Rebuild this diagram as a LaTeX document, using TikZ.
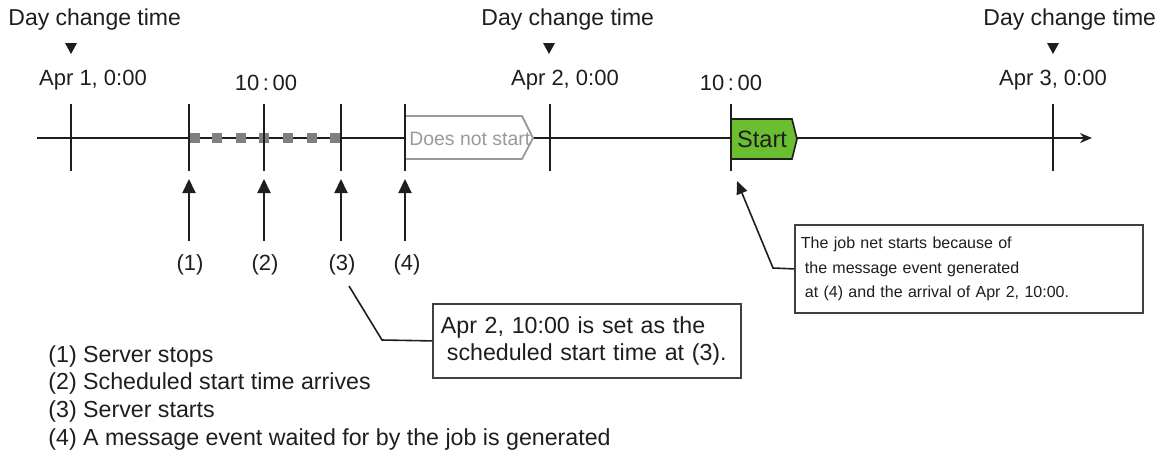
\documentclass[tikz,border=0pt]{standalone}
\usepackage{fontspec}
\setmainfont{Liberation Sans}
\usetikzlibrary{arrows.meta}
\definecolor{ink}{HTML}{1E1E1E}
\definecolor{dots}{HTML}{7F7F7F}
\definecolor{ghost}{HTML}{9A9A9A}
\definecolor{jobgreen}{HTML}{6BBE2F}
\tikzset{
  lbl/.style={inner sep=0pt, text=ink, font=\fontsize{11.5pt}{13pt}\selectfont},
  ticklbl/.style={inner sep=0pt, text=ink, font=\fontsize{11pt}{13pt}\selectfont},
  axis/.style={draw=ink, line width=0.8pt},
  tickline/.style={draw=ink, line width=0.8pt},
  uparrow/.style={draw=ink, line width=1pt, -{Triangle[width=6.5pt,length=7pt]}},
  daymark/.style={fill=ink, draw=none},
  sq/.style={fill=dots, draw=none, minimum size=5.2pt, inner sep=0pt},
  callout/.style={draw=ink!85, line width=0.9pt, fill=white, inner sep=3pt,
    align=left, anchor=north west, text=ink},
  leader/.style={draw=ink, line width=0.8pt},
}
\begin{document}
\begin{tikzpicture}[x=0.5pt, y=-0.5pt]
\useasboundingbox (0,0) rectangle (1163,457);

% main time axis
\coordinate (t0) at (37,138);
\coordinate (t1) at (1092,138);
\draw[axis, -{Stealth[width=5pt,length=6pt]}] (t0) -- (t1);

% gap while the server is down
\foreach \x in {195,217,241,264,288,312,335}
  \node[sq] at (\x,138) {};

% job net that does not start
\draw[draw=ghost, line width=0.9pt, fill=white]
  (405,116) -- (522,116) -- (533,138) -- (522,159) -- (405,159);
\node[inner sep=0pt, text=ghost, font=\fontsize{9.7pt}{11pt}\selectfont, anchor=west]
  (nostart) at (409,139) {Does not start};

% job net that starts
\draw[draw=ink, line width=0.8pt, fill=jobgreen]
  (731,119) -- (792,119) -- (797,139) -- (792,159) -- (731,159) -- cycle;
\node[inner sep=0pt, text=ink, font=\fontsize{11.8pt}{13pt}\selectfont]
  (start) at (762,139) {Start};

% ticks
\foreach \x in {71,189,264,341,405,550,731,1053}
  \draw[tickline] (\x,104) -- (\x,171);

% day change markers
\node[lbl, anchor=west] (d1) at (8,20) {Day change time};
\node[lbl, anchor=west] (d2) at (481,20) {Day change time};
\node[lbl, anchor=west] (d3) at (983,20) {Day change time};
\foreach \x in {71,549,1053}
  \fill[daymark] (\x-6,43) -- (\x+6,43) -- (\x,54) -- cycle;

% tick labels
\node[ticklbl] (a1) at (93,80) {Apr 1, 0:00};
\node[ticklbl] (h1) at (266,83) {10\,:\,00};
\node[ticklbl] (a2) at (565,80) {Apr 2, 0:00};
\node[ticklbl] (h2) at (731,83) {10\,:\,00};
\node[ticklbl] (a3) at (1053,80) {Apr 3, 0:00};

% event arrows and numbers
\node[ticklbl] (l1) at (190,265) {(1)};
\node[ticklbl] (l2) at (265,265) {(2)};
\node[ticklbl] (l3) at (342,265) {(3)};
\node[ticklbl] (l4) at (407,265) {(4)};
\foreach \n/\x in {1/189,2/264,3/341,4/405}
  \draw[uparrow] (\x,241) -- (\x,179);

% callout for (3)
\node[callout, inner sep=4pt, minimum width=154pt, minimum height=37pt, text width=146pt,
      font=\fontsize{11.6pt}{13.5pt}\selectfont] (box1) at (432,303)
  {Apr 2, 10:00 is set as the\\\hspace{3pt}scheduled start time at (3).};
\coordinate (c3) at (349,286);
\draw[leader] (c3) -- (382,340) -- (box1.west);

% callout for the start
\node[callout, minimum width=174pt, minimum height=44pt, text width=168pt,
      font=\fontsize{8pt}{12.2pt}\selectfont] (box2) at (794,224)
  {The job net starts because of\\\hspace{2pt}the message event generated\\\hspace{2pt}at (4) and the arrival of Apr 2, 10:00.};
\coordinate (c4) at (737,181);
\draw[leader, -{Triangle[width=5.5pt,length=6.5pt]}] (box2.west) -- (773,268) -- (c4);

% legend
\node[lbl, anchor=north west, align=left, font=\fontsize{11.6pt}{13.8pt}\selectfont]
  (legend) at (48,345)
  {(1) Server stops\\(2) Scheduled start time arrives\\(3) Server starts\\(4) A message event waited for by the job is generated};
\end{tikzpicture}
\end{document}
